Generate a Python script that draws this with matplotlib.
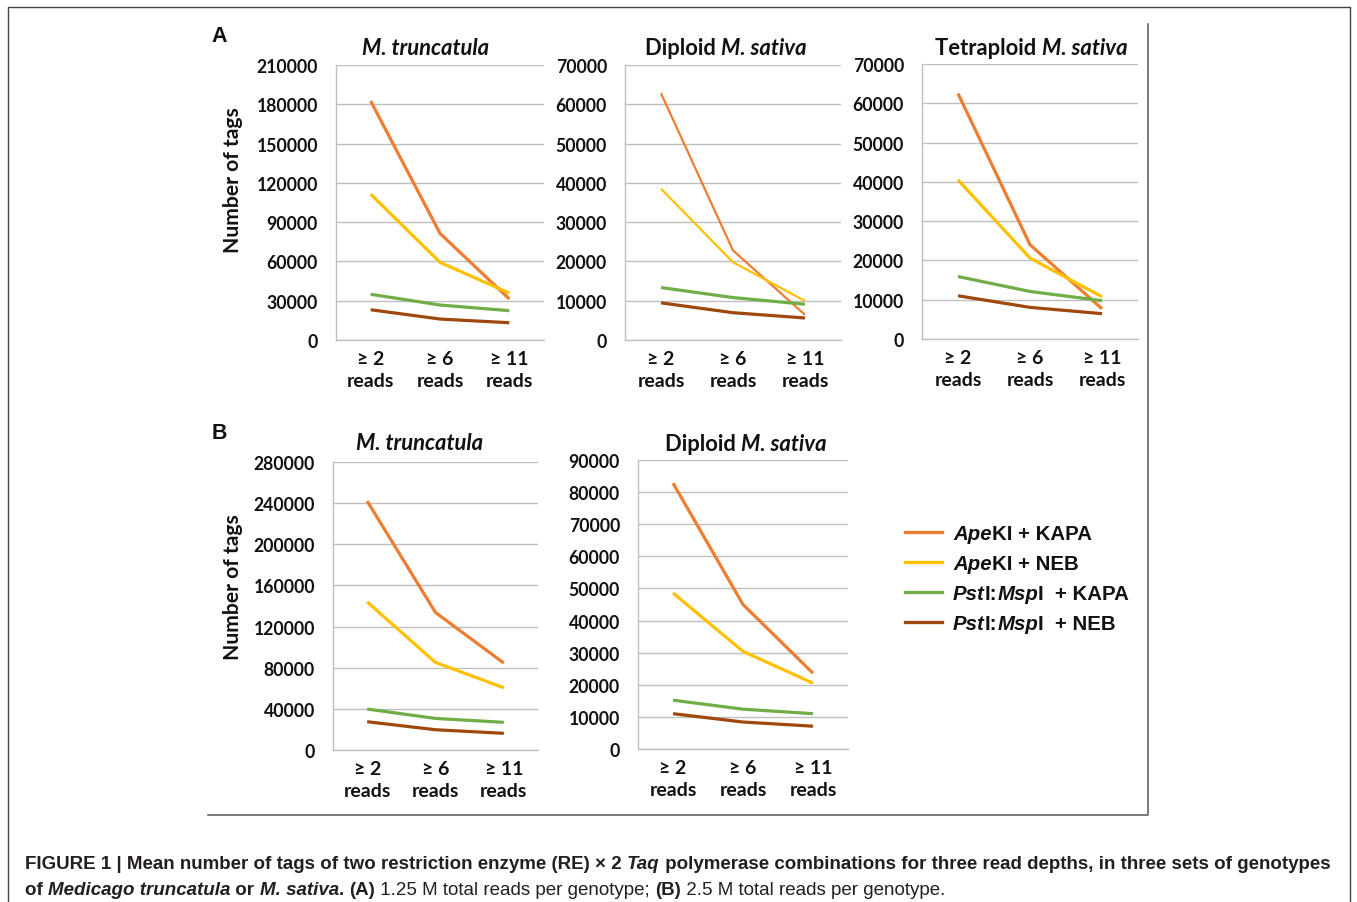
import matplotlib
matplotlib.use("Agg")
import matplotlib.pyplot as plt
from matplotlib.lines import Line2D
from matplotlib.transforms import IdentityTransform

# ---------------------------------------------------------------- data
categories = ["≥ 2\nreads", "≥ 6\nreads", "≥ 11\nreads"]
series_names = ["ApeKI + KAPA", "ApeKI + NEB", "PstI:MspI + KAPA", "PstI:MspI + NEB"]
series_colors = ["#ED7D31", "#FFC000", "#70AD47", "#9E480E"]

# (A) 1.25 M total reads per genotype
a_truncatula = [
    [182500, 81400, 31300],
    [111400, 59300, 35800],
    [34900, 26700, 22400],
    [23100, 16000, 13200],
]
a_diploid = [
    [62800, 22800, 6400],
    [38500, 19800, 9950],
    [13350, 10800, 9100],
    [9450, 6950, 5600],
]
a_tetraploid = [
    [62500, 24000, 7700],
    [40500, 20600, 10750],
    [15900, 12100, 9750],
    [11000, 8050, 6450],
]
# (B) 2.5 M total reads per genotype
b_truncatula = [
    [242000, 133700, 84500],
    [144000, 85100, 60500],
    [39800, 30700, 26900],
    [27500, 19700, 16200],
]
b_diploid = [
    [82800, 45000, 23600],
    [48600, 30400, 20500],
    [15200, 12400, 11000],
    [11000, 8400, 7100],
]

W, H = 1357, 903
fig = plt.figure(figsize=(W / 100, H / 100), dpi=100)
fig.patch.set_facecolor("white")
renderer = fig.canvas.get_renderer()

TICK_FONT = ["Lato", "DejaVu Sans"]
SANS = ["Liberation Sans", "DejaVu Sans"]
INK = "#111111"
GRID = "#BFBFBF"


def px_axes(x0, x1, y0, y1):
    """Axes from pixel box (y measured from top)."""
    return fig.add_axes([x0 / W, 1 - y1 / H, (x1 - x0) / W, (y1 - y0) / H])


def seg_width(s, size, family, weight, style):
    # advance width including leading/trailing blanks
    t1 = fig.text(0, 0, "|" + s + "|", fontsize=size, family=family,
                  fontweight=weight, fontstyle=style)
    t2 = fig.text(0, 0, "||", fontsize=size, family=family,
                  fontweight=weight, fontstyle=style)
    w = t1.get_window_extent(renderer).width - t2.get_window_extent(renderer).width
    t1.remove()
    t2.remove()
    return w


def rich(x, y, parts, size, family, ha="left", color=INK, va="baseline"):
    """Draw a run of (text, weight, style) pieces at pixel (x, y-from-top)."""
    widths = [seg_width(s, size, family, wt, st) for s, wt, st in parts]
    total = sum(widths)
    if ha == "center":
        x = x - total / 2
    elif ha == "right":
        x = x - total
    cx = x
    for (s, wt, st), w in zip(parts, widths):
        fig.text(cx, H - y, s, fontsize=size, family=family, fontweight=wt,
                 fontstyle=st, color=color, ha="left", va=va,
                 transform=IdentityTransform())
        cx += w
    return total


def panel(box, data, ymax, ystep, widths):
    ax = px_axes(*box)
    x = range(len(categories))
    for vals, col, lw in zip(data, series_colors, widths):
        ax.plot(x, vals, color=col, lw=lw, solid_capstyle="butt",
                solid_joinstyle="round")
    ax.set_xlim(-0.5, len(categories) - 0.5)
    ax.set_ylim(0, ymax)
    ax.set_yticks(range(0, ymax + 1, ystep))
    ax.set_xticks(list(x))
    ax.set_xticklabels(categories, linespacing=1.4)
    ax.grid(axis="y", color=GRID, lw=1.0)
    ax.set_axisbelow(True)
    for side in ("top", "right"):
        ax.spines[side].set_visible(False)
    for side in ("left", "bottom"):
        ax.spines[side].set_color(GRID)
        ax.spines[side].set_linewidth(1.0)
    ax.tick_params(axis="y", length=0, pad=13)
    ax.tick_params(axis="x", length=0, pad=7)
    for lab in ax.get_yticklabels():
        lab.set_fontsize(12.7)
    for lab in ax.get_xticklabels():
        lab.set_fontsize(14)
    for lab in ax.get_yticklabels() + ax.get_xticklabels():
        lab.set_fontfamily(TICK_FONT)
        lab.set_fontweight("bold")
        lab.set_color(INK)
    ax.set_facecolor("none")
    return ax


thick = 2.3
panel((336, 544, 66, 341), a_truncatula, 210000, 30000, [thick] * 4)
panel((625, 841, 66, 341), a_diploid, 70000, 10000, [1.6, 1.6, thick, thick])
panel((922, 1138, 65, 340), a_tetraploid, 70000, 10000, [thick] * 4)
panel((333, 538, 463, 751), b_truncatula, 280000, 40000, [thick] * 4)
panel((638, 848, 461, 750), b_diploid, 90000, 10000, [thick] * 4)

# panel titles
TS = 15.8
rich(426, 55, [("M. truncatula", "bold", "italic")], TS, TICK_FONT, ha="center")
rich(726, 55, [("Diploid ", "bold", "normal"), ("M. sativa", "bold", "italic")],
     TS, TICK_FONT, ha="center")
rich(1031, 55, [("Tetraploid ", "bold", "normal"), ("M. sativa", "bold", "italic")],
     TS, TICK_FONT, ha="center")
rich(420, 450, [("M. truncatula", "bold", "italic")], TS, TICK_FONT, ha="center")
rich(746, 451, [("Diploid ", "bold", "normal"), ("M. sativa", "bold", "italic")],
     TS, TICK_FONT, ha="center")

# y-axis labels
for yc in (180, 587):
    fig.text(233 / W, 1 - yc / H, "Number of tags", rotation=90, ha="center",
             va="center", fontsize=15.2, family=TICK_FONT, fontweight="bold",
             color=INK)

# panel letters
fig.text(219 / W, 1 - 36 / H, "A", ha="center", va="center", fontsize=15.5,
         family=SANS, fontweight="bold", color=INK)
fig.text(219 / W, 1 - 434 / H, "B", ha="center", va="center", fontsize=15.5,
         family=SANS, fontweight="bold", color=INK)

# legend
legend_parts = [
    [("Ape", "bold", "italic"), ("KI + KAPA", "bold", "normal")],
    [("Ape", "bold", "italic"), ("KI + NEB", "bold", "normal")],
    [("Pst", "bold", "italic"), ("I:", "bold", "normal"), ("Msp", "bold", "italic"),
     ("I  + KAPA", "bold", "normal")],
    [("Pst", "bold", "italic"), ("I:", "bold", "normal"), ("Msp", "bold", "italic"),
     ("I  + NEB", "bold", "normal")],
]
for i, (parts, col) in enumerate(zip(legend_parts, series_colors)):
    yy = 533 + 30 * i
    fig.add_artist(Line2D([905, 942], [H - yy, H - yy], color=col, lw=2.4,
                          transform=IdentityTransform()))
    rich(953, yy, parts, 14.7, SANS, va="center_baseline")

# frames
frame_col = "#444444"
fig.add_artist(Line2D([8, 8, 1350, 1350], [0, H - 8, H - 8, 0], color=frame_col,
                      lw=1.0, transform=IdentityTransform()))
fig.add_artist(Line2D([208, 1148, 1148], [H - 816, H - 816, H - 25],
                      color="#555555", lw=1.1, transform=IdentityTransform()))

# caption
line1 = [("FIGURE 1 | Mean number of tags of two restriction enzyme (RE) \u00d7 2 ", "bold", "normal"),
         ("Taq", "bold", "italic"),
         (" polymerase combinations for three read depths, in three sets of genotypes", "bold", "normal")]
line2 = [("of ", "bold", "normal"), ("Medicago truncatula", "bold", "italic"),
         (" or ", "bold", "normal"), ("M. sativa", "bold", "italic"),
         (". ", "bold", "normal"), ("(A)", "bold", "normal"),
         (" 1.25 M total reads per genotype; ", "normal", "normal"),
         ("(B)", "bold", "normal"), (" 2.5 M total reads per genotype.", "normal", "normal")]
base = 12.0
w1 = sum(seg_width(s, base, SANS, wt, st) for s, wt, st in line1)
cap_size = base * 1305 / w1
rich(25, 869, line1, cap_size, SANS, color="#231F20")
rich(25, 895, line2, cap_size, SANS, color="#231F20")

fig.savefig("out.png", dpi=100, facecolor="white")
